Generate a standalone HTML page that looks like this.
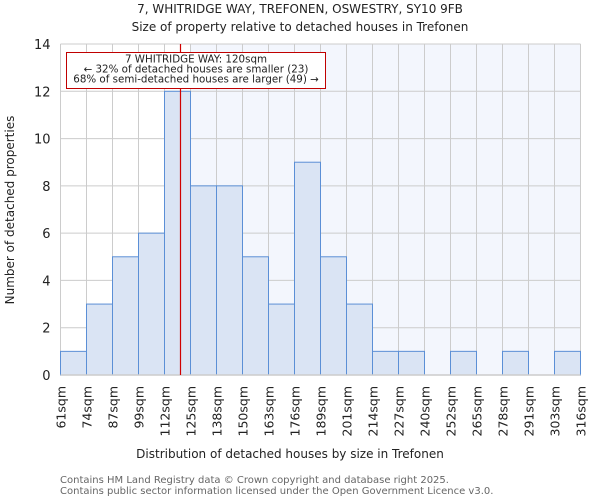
<!DOCTYPE html>
<html><head><meta charset="utf-8"><style>
body{margin:0;background:#fff;font-family:"DejaVu Sans","Liberation Sans",sans-serif}
</style></head><body>
<svg id="c" width="600" height="500" xmlns="http://www.w3.org/2000/svg" font-family="DejaVu Sans, Liberation Sans, sans-serif">
<text x="300" y="13" text-anchor="middle" font-size="12" fill="#222">7, WHITRIDGE WAY, TREFONEN, OSWESTRY, SY10 9FB</text>
<text x="300" y="31" text-anchor="middle" font-size="12" fill="#222">Size of property relative to detached houses in Trefonen</text>
<g id="plot"></g>
<text x="290" y="458" text-anchor="middle" font-size="12" fill="#222">Distribution of detached houses by size in Trefonen</text>
<text transform="translate(14,210) rotate(-90)" text-anchor="middle" font-size="12" fill="#222">Number of detached properties</text>
<text x="60" y="483" font-size="10" fill="#666">Contains HM Land Registry data © Crown copyright and database right 2025.</text>
<text x="60" y="494" font-size="10" fill="#666">Contains public sector information licensed under the Open Government Licence v3.0.</text>
</svg>
<script>
const categories=["61sqm","74sqm","87sqm","99sqm","112sqm","125sqm","138sqm","150sqm","163sqm","176sqm","189sqm","201sqm","214sqm","227sqm","240sqm","252sqm","265sqm","278sqm","291sqm","303sqm","316sqm"];
const counts=[1,3,5,6,12,8,8,5,3,9,5,3,1,1,0,1,0,1,0,1];
const yTicks=[0,2,4,6,8,10,12,14];
const propertySize=120;
const binEdges=[61,74,87,99,112,125,138,150,163,176,189,201,214,227,240,252,265,278,291,303,316];
const NS="http://www.w3.org/2000/svg";
const g=document.getElementById('plot');
const X0=60.5,X1=580.5,Y0=375,Y1=44;
const bw=(X1-X0)/counts.length;
const xs=i=>X0+i*bw;
const ys=v=>Y0-(v/14)*(Y0-Y1);
function el(t,a){const e=document.createElementNS(NS,t);for(const k in a)e.setAttribute(k,a[k]);g.appendChild(e);return e;}
let pi=0;for(let i=0;i<binEdges.length-1;i++){if(propertySize>=binEdges[i]&&propertySize<binEdges[i+1])pi=i;}
const px=xs(pi)+bw*(propertySize-binEdges[pi])/(binEdges[pi+1]-binEdges[pi]);
const shade=el('rect',{x:xs(pi+1),y:Y1,width:X1-xs(pi+1),height:Y0-Y1,fill:'#f3f6fd'});


yTicks.forEach(t=>{
const l=el('line',{x1:X0,x2:X1,y1:ys(t),y2:ys(t),stroke:'#cccccc','stroke-width':1});


const tx=el('text',{x:X0-10,y:ys(t)+5,'text-anchor':'end','font-size':13,fill:'#222'});
tx.textContent=t;


});
categories.forEach((c,i)=>{
const l=el('line',{x1:xs(i),x2:xs(i),y1:Y1,y2:Y0,stroke:'#cccccc','stroke-width':1});


const tx=el('text',{transform:`translate(${xs(i)+5},386) rotate(-90)`,'text-anchor':'end','font-size':12.5,fill:'#222'});
tx.textContent=c;


});
counts.forEach((v,i)=>{
if(v<=0)return;
const r=el('rect',{x:xs(i),y:ys(v),width:bw,height:Y0-ys(v),fill:'#dae4f4',stroke:'#5b8fd6','stroke-width':1});


});
const ax=el('line',{x1:X0,x2:X1,y1:Y0,y2:Y0,stroke:'#cccccc','stroke-width':1.5});


const ml=el('line',{x1:px,x2:px,y1:Y1,y2:Y0,stroke:'#d00000','stroke-width':1.2});


const box=el('rect',{x:66.5,y:52.5,width:259,height:36,fill:'#fff',stroke:'#c00000','stroke-width':1});


["7 WHITRIDGE WAY: 120sqm","← 32% of detached houses are smaller (23)","68% of semi-detached houses are larger (49) →"].forEach((s,i)=>{
const t=el('text',{x:196,y:62.5+i*10,'text-anchor':'middle','font-size':10.3,fill:'#222'});
t.textContent=s;


});
</script>
</body></html>
